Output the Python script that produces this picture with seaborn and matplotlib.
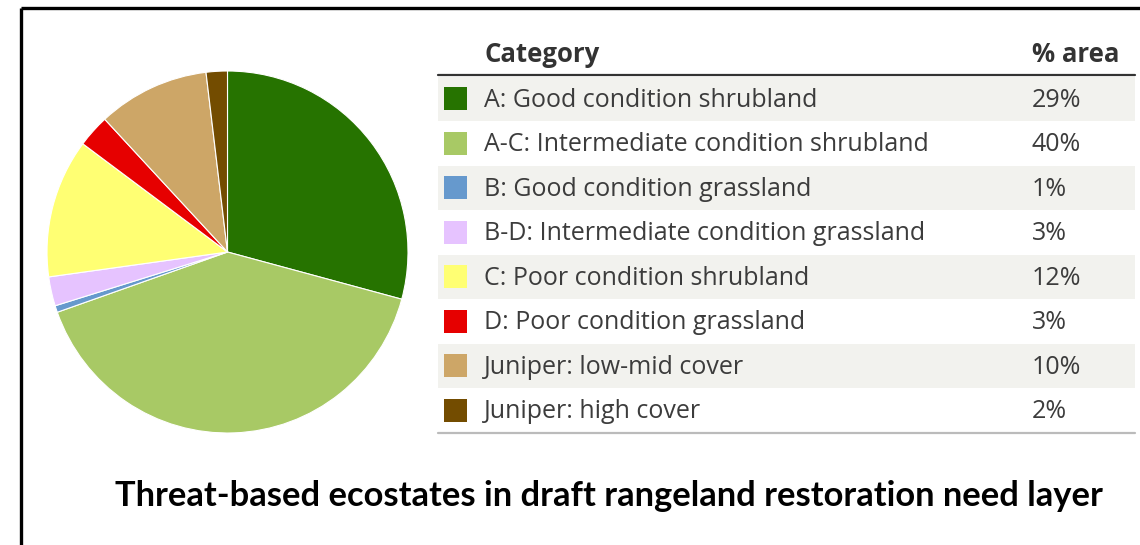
import matplotlib
matplotlib.use("Agg")
import matplotlib.pyplot as plt
import seaborn as sns
from matplotlib.patches import Rectangle

# ---------------- data ----------------
categories = [
    "A: Good condition shrubland",
    "A-C: Intermediate condition shrubland",
    "B: Good condition grassland",
    "B-D: Intermediate condition grassland",
    "C: Poor condition shrubland",
    "D: Poor condition grassland",
    "Juniper: low-mid cover",
    "Juniper: high cover",
]
pct_labels = ["29%", "40%", "1%", "3%", "12%", "3%", "10%", "2%"]
# shares
area_share = [29.2, 40.4, 0.6, 2.6, 12.4, 2.9, 10.0, 1.9]
colors = ["#267300", "#a8c965", "#6699cd", "#e6c3ff", "#ffff73",
          "#e60000", "#cda667", "#734c00"]
header = ["Category", "% area"]
title = "Threat-based ecostates in draft rangeland restoration need layer"

# ---------------- style ----------------
sns.set_theme(style="white")
plt.rcParams["font.family"] = ["Open Sans", "DejaVu Sans"]

W, H = 1140, 545
fig = plt.figure(figsize=(W / 100, H / 100), dpi=100)
fig.patch.set_facecolor("white")

# overlay axes in pixel coordinates (table, border, title)
ov = fig.add_axes([0, 0, 1, 1])
ov.set_xlim(0, W)
ov.set_ylim(H, 0)
ov.axis("off")

# border (top and left)
ov.plot([21, W], [8, 8], color="black", lw=2.4, solid_capstyle="butt")
ov.plot([21, 21], [8, H], color="black", lw=2.4, solid_capstyle="butt")

# pie
pax = fig.add_axes([47 / W, 1 - 433 / H, 361 / W, 362 / H])
pax.pie(area_share, colors=colors, startangle=90, counterclock=False,
        wedgeprops=dict(edgecolor="white", linewidth=0.8))
pax.set_xlim(-1, 1)
pax.set_ylim(-1, 1)
pax.set_aspect("auto")
pax.axis("off")

# table
tx0, tx1 = 438, 1135
row_h = 44.5
row0 = 76.5
txt_col = "#3c3c3c"
ov.text(484, 54.5, header[0], fontsize=18.5, fontweight="bold", color="#333333",
        va="center", ha="left")
ov.text(1032, 54.5, header[1], fontsize=18.5, fontweight="bold", color="#333333",
        va="center", ha="left")
for i, (cat, pct, col) in enumerate(zip(categories, pct_labels, colors)):
    top = row0 + i * row_h
    if i % 2 == 0:
        ov.add_patch(Rectangle((tx0, top), tx1 - tx0, row_h,
                               facecolor="#f2f2ee", edgecolor="none", zorder=0))
    cy = top + row_h / 2
    ov.add_patch(Rectangle((444, cy - 11.5), 23, 23, facecolor=col,
                           edgecolor="none", zorder=2))
    ov.text(484, cy + 1.5, cat, fontsize=18, color=txt_col, va="center", ha="left")
    ov.text(1032, cy + 1.5, pct, fontsize=18, color=txt_col, va="center", ha="left")

ov.plot([tx0, tx1], [74.5, 74.5], color="#333333", lw=1.6)
ov.plot([tx0, tx1], [row0 + 8 * row_h + 0.5] * 2, color="#bbbbbb", lw=1.6)

# title
ov.text(609, 496, title, fontsize=24.8, fontweight="bold", color="black",
        family=["Lato", "DejaVu Sans"], ha="center", va="center")

fig.savefig("out.png", dpi=100, facecolor="white")
